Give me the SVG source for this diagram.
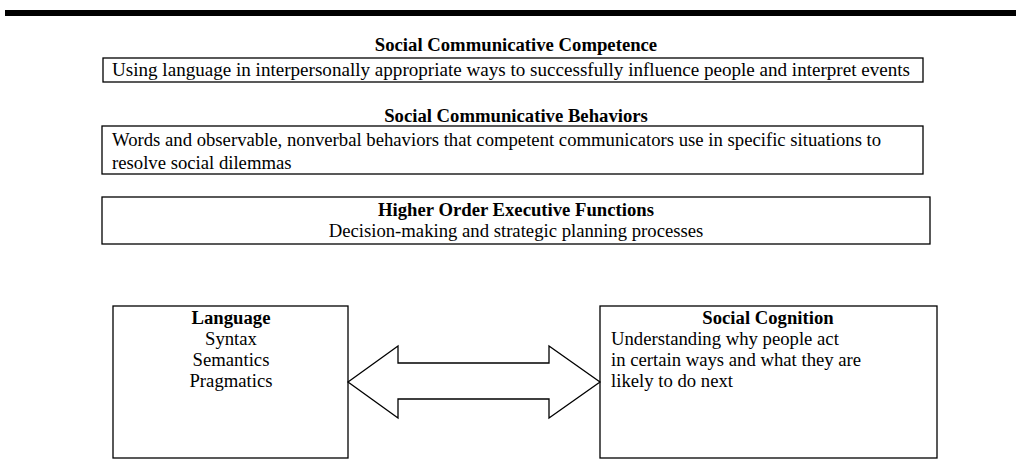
<svg xmlns="http://www.w3.org/2000/svg" width="1016" height="476" viewBox="0 0 1016 476">
<style>
text{font-family:"Liberation Serif","Times New Roman",serif;font-size:18.7px;fill:#000}
.b{font-weight:bold}
.c{text-anchor:middle}
.box{fill:#fff;stroke:#000;stroke-width:1.3}
</style>
<rect x="5" y="10" width="1011" height="6" fill="#000"/>
<g id="competence">
<text class="b c" x="516" y="51">Social Communicative Competence</text>
<rect class="box" x="103" y="58" width="820" height="24"/>
<text x="112" y="76" textLength="798" lengthAdjust="spacingAndGlyphs">Using language in interpersonally appropriate ways to successfully influence people and interpret events</text>
</g>
<g id="behaviors">
<text class="b c" x="516" y="122">Social Communicative Behaviors</text>
<rect class="box" x="102" y="126" width="821" height="48"/>
<text x="112" y="146">Words and observable, nonverbal behaviors that competent communicators use in specific situations to</text>
<text x="112" y="169">resolve social dilemmas</text>
</g>
<g id="executive">
<rect class="box" x="102" y="197" width="828" height="47"/>
<text class="b c" x="516" y="216">Higher Order Executive Functions</text>
<text class="c" x="516" y="237">Decision-making and strategic planning processes</text>
</g>
<g id="language">
<rect class="box" x="113" y="306" width="235" height="152"/>
<text class="b c" x="231" y="324">Language</text>
<text class="c" x="231" y="345">Syntax</text>
<text class="c" x="231" y="366">Semantics</text>
<text class="c" x="231" y="387">Pragmatics</text>
</g>
<g id="cognition">
<rect class="box" x="600" y="306" width="337" height="152"/>
<text class="b c" x="768" y="324">Social Cognition</text>
<text x="611" y="345">Understanding why people act</text>
<text x="611" y="366">in certain ways and what they are</text>
<text x="611" y="387">likely to do next</text>
</g>
<g id="connectors">
<polygon points="348,382 398,346 398,363 549,363 549,346 600,382 549,418 549,399 398,399 398,418" fill="#fff" stroke="#000" stroke-width="1.3"/>
</g>
</svg>
